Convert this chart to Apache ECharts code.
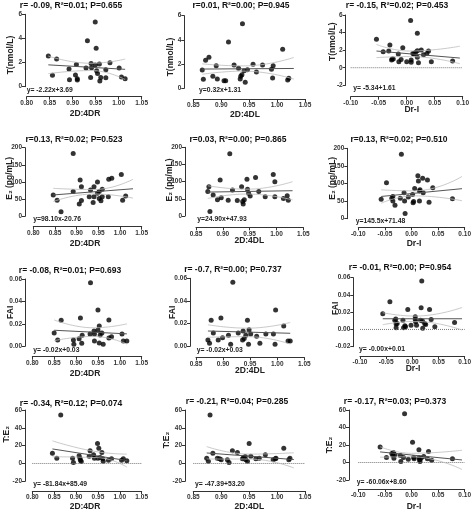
<!DOCTYPE html>
<html><head><meta charset="utf-8">
<script src="https://cdn.jsdelivr.net/npm/echarts@6/dist/echarts.min.js"></script>
<style>html,body{margin:0;padding:0;background:#fff}#c{width:474px;height:512px}</style>
</head><body><div id="c"></div><script>
// ---------- DATA ----------
const xAxisNames = ['2D:4DR','2D:4DL','Dr-I'];
const yAxisNames = ['T(nmol/L)','E\u2082 (pg/mL)','FAI','T:E\u2082'];
const statTexts = [
 'r= -0.09, R\u00b2=0.01; P=0.655','r=0.01, R\u00b2=0.00; P=0.945','r= -0.15, R\u00b2=0.02; P=0.453',
 'r=0.13, R\u00b2=0.02; P=0.523','r=0.03, R\u00b2=0.00; P=0.865','r=0.13, R\u00b2=0.02; P=0.510',
 'r= -0.08, R\u00b2=0.01; P=0.693','r= -0.7, R\u00b2=0.00; P=0.737','r= -0.01, R\u00b2=0.00; P=0.954',
 'r= -0.34, R\u00b2=0.12; P=0.074','r= -0.21, R\u00b2=0.04; P=0.285','r= -0.17, R\u00b2=0.03; P=0.373'];
const eqTexts = [
 'y= -2.22x+3.69','y=0.32x+1.31','y= -5.34+1.61',
 'y=98.10x-20.76','y=24.90x+47.93','y=145.5x+71.48',
 'y= -0.02x+0.03','y= -0.02x+0.03','y= -0.00x+0.01',
 'y= -81.84x+85.49','y= -47.39+53.20','y= -60.06x+8.60'];
// axis ranges [min,max,interval]
const xRanges = [[0.80,1.05,0.05],[0.85,1.05,0.05],[-0.10,0.10,0.05]];
const yRanges = [[0,6,2],[0,6,2],[-2,6,2],[0,200,50],[0,200,50],[0,200,50],
 [0,0.06,0.02],[0,0.06,0.02],[-0.02,0.06,0.02],[-20,60,20],[-20,60,20],[-20,60,20]];

const t4drX=[0.847,0.865,0.856,0.892,0.893,0.908,0.906,0.910,0.910,0.932,0.929,0.939,0.940,0.941,0.949,0.951,0.949,0.952,0.954,0.958,0.961,0.959,0.972,0.972,0.981,1.001,1.006,1.014];
const t4drY=[2.54,2.29,0.94,1.46,0.58,1.85,0.97,0.66,0.55,3.81,1.55,0.77,1.93,1.57,5.36,3.18,1.80,1.33,1.10,1.88,0.77,0.47,1.41,0.75,1.99,1.55,0.80,0.66];
const t4dlX=[0.866,0.868,0.872,0.878,0.885,0.891,0.893,0.905,0.908,0.913,0.923,0.931,0.934,0.935,0.937,0.938,0.941,0.943,0.947,0.957,0.963,0.974,0.990,0.993,0.992,1.010,1.019,1.021];
const t4dlY=[1.52,0.74,2.31,2.56,0.99,1.87,0.77,0.63,0.63,3.83,1.93,1.65,0.77,0.99,1.13,5.34,1.46,0.50,1.54,1.98,1.35,1.93,1.57,1.87,0.85,3.22,0.69,0.83];
const tDrX=[-0.054,-0.042,-0.032,-0.030,-0.027,-0.026,-0.024,-0.007,-0.015,-0.014,-0.010,0.000,0.007,0.008,0.008,0.011,0.016,0.019,0.019,0.019,0.021,0.026,0.030,0.036,0.039,0.044,0.082,0.013];
const tDrY=[3.23,1.83,1.90,2.59,0.87,0.99,0.99,2.28,1.56,0.68,0.95,0.68,5.36,0.87,0.61,1.63,1.75,3.92,1.94,1.18,0.57,2.02,1.48,1.63,1.90,0.68,0.76,1.56];
const e4drX=[0.846,0.855,0.864,0.892,0.892,0.908,0.911,0.906,0.911,0.932,0.929,0.940,0.940,0.938,0.948,0.948,0.952,0.952,0.956,0.959,0.959,0.973,0.974,0.981,1.003,1.006,1.013];
const e4drY=[62,47,13,183,72,106,86,36,46,77,57,86,57,40,100,67,72,52,45,79,57,57,108,111,122,47,59];
const e4dlX=[0.872,0.874,0.876,0.882,0.890,0.895,0.897,0.910,0.913,0.918,0.927,0.935,0.937,0.938,0.940,0.945,0.946,0.948,0.951,0.961,0.967,0.979,0.994,0.997,0.997,1.013,1.020,1.022];
const e4dlY=[71,85,13,61,47,105,53,46,181,76,45,85,42,35,47,107,78,66,58,112,71,56,121,100,56,51,59,46];
const eDrX=[-0.057,-0.047,-0.037,-0.035,-0.035,-0.031,-0.021,-0.019,-0.014,-0.013,-0.012,-0.006,0.002,0.004,0.003,0.006,0.012,0.013,0.015,0.015,0.016,0.021,0.022,0.030,0.033,0.040,0.077];
const eDrY=[55,102,58,63,50,38,58,183,74,50,15,62,69,49,45,86,122,107,79,50,82,115,74,110,47,88,57];
const fai4drX=[0.850,0.858,0.866,0.894,0.895,0.907,0.910,0.914,0.913,0.933,0.932,0.941,0.942,0.942,0.950,0.950,0.953,0.955,0.953,0.959,0.962,0.975,0.975,0.981,1.005,1.008,1.016];
const fai4drY=[0.0119,0.0056,0.0232,0.0056,0.0018,0.0068,0.0252,0.0098,0.0027,0.0567,0.011,0.0137,0.011,0.0048,0.0324,0.0146,0.0181,0.0101,0.003,0.0119,0.0018,0.0235,0.0074,0.0086,0.011,0.0048,0.0048];
const fai4dlX=[0.872,0.875,0.878,0.882,0.891,0.896,0.899,0.910,0.914,0.918,0.928,0.936,0.937,0.939,0.942,0.945,0.947,0.948,0.951,0.962,0.968,0.979,0.993,0.996,0.997,1.012,1.020,1.024];
const fai4dlY=[0.0056,0.0026,0.0229,0.0118,0.0056,0.025,0.0076,0.0097,0.0018,0.0565,0.0118,0.0056,0.0135,0.0068,0.0097,0.0229,0.0018,0.0147,0.0109,0.0088,0.0026,0.0109,0.0109,0.0018,0.032,0.0179,0.0047,0.0047];
const faiDrX=[-0.0565,-0.0429,-0.0335,-0.0317,-0.031,-0.029,-0.031,-0.018,-0.0168,-0.0143,-0.013,-0.0087,-0.0025,0.0056,0.0056,0.0062,0.008,0.0155,0.0168,0.018,0.0193,0.0199,0.0236,0.0255,0.0329,0.036,0.043,0.0807];
const faiDrY=[0.0182,0.0321,0.0108,0.012,0.0062,0.007,0.0019,0.0108,0.0019,0.0043,0.003,0.0232,0.005,0.0147,0.0116,0.0089,0.005,0.0108,0.0252,0.0561,0.0097,0.0015,0.007,0.0058,0.0232,0.0116,0.003,0.0081];
const te4drX=[0.846,0.856,0.865,0.892,0.894,0.907,0.909,0.910,0.912,0.932,0.930,0.940,0.942,0.949,0.952,0.950,0.955,0.959,0.961,0.962,0.974,0.981,1.004,1.008,1.016];
const te4drY=[11.6,6.0,54.5,6.0,1.1,8.6,6.0,3.7,2.2,14.2,8.2,9.7,6.0,22.4,17.2,6.0,6.7,12.3,5.2,2.6,3.7,5.2,3.7,5.2,3.0];
const te4dlX=[0.874,0.877,0.880,0.885,0.893,0.897,0.900,0.911,0.914,0.920,0.929,0.938,0.940,0.943,0.944,0.947,0.950,0.953,0.962,0.968,0.979,0.993,0.997,0.998,1.012,1.021,1.023];
const te4dlY=[6.0,2.6,54.5,11.6,6.0,5.2,4.1,4.1,1.1,14.2,12.3,5.2,6.7,7.8,4.1,2.6,22.4,8.2,5.2,6.0,9.7,4.1,5.2,6.0,17.2,4.1,6.0];
const teDrX=[-0.059,-0.047,-0.037,-0.035,-0.034,-0.033,-0.031,-0.021,-0.020,-0.015,-0.013,-0.006,0.002,0.004,0.005,0.014,0.014,0.015,0.016,0.018,0.023,0.030,0.032,0.038,0.077];
const teDrY=[17.7,5.8,10.4,8.1,11.5,5.0,8.8,8.1,1.2,5.8,55.8,3.8,23.1,5.8,4.2,14.6,5.8,3.1,1.2,5.0,6.9,4.2,12.7,2.7,4.2];

// regression line end points [x0,y0,x1,y1]
const fitLines=[[0.847,1.81,1.014,1.44],[0.866,1.59,1.03,1.64],[-0.054,1.90,0.095,1.10],
 [0.846,62.2,1.03,80.3],[0.872,69.6,1.03,73.6],[-0.057,63.2,0.095,85.3],
 [0.850,0.0143,1.016,0.0111],[0.872,0.0135,1.024,0.0115],[-0.0565,0.0124,0.095,0.0124],
 [0.846,16.3,1.016,3.3],[0.874,11.8,1.03,4.4],[-0.059,12.1,0.095,2.9]];
// 95% confidence band (read at left end, narrowest point, right end)
const bandUpper=[[[0.847,2.54],[0.94,1.94],[1.014,2.29]],[[0.866,2.02],[0.94,1.85],[1.03,2.55]],[[-0.054,2.65],[0.005,1.90],[0.095,2.45]],
 [[0.846,81.5],[0.94,78],[1.03,108]],[[0.872,88],[0.945,78],[1.03,100]],[[-0.057,82],[0.005,79],[0.095,120]],
 [[0.85,0.0235],[0.94,0.0165],[1.016,0.020]],[[0.872,0.019],[0.945,0.016],[1.024,0.021]],[[-0.0565,0.0194],[0.005,0.0155],[0.095,0.0255]],
 [[0.846,25.4],[0.95,13],[1.016,10.5]],[[0.874,19],[0.95,10.5],[1.03,12]],[[-0.059,18],[0.0,10.5],[0.095,14]]];
const bandLower=[[[0.847,1.08],[0.94,1.34],[1.014,0.59]],[[0.866,1.16],[0.94,1.42],[1.03,0.76]],[[-0.054,1.15],[0.005,1.27],[0.095,0.45]],
 [[0.846,43],[0.94,65],[1.03,53]],[[0.872,51],[0.945,64],[1.03,47]],[[-0.057,44],[0.005,65],[0.095,51]],
 [[0.85,0.005],[0.94,0.0088],[1.016,0.002]],[[0.872,0.008],[0.945,0.0085],[1.024,0.002]],[[-0.0565,0.0055],[0.005,0.0093],[0.095,-0.0007]],
 [[0.846,7.5],[0.95,6.5],[1.016,-4]],[[0.874,5],[0.95,5],[1.03,-5]],[[-0.059,6],[0.0,6.5],[0.095,-8]]];
const zeroLinePanels=[2,8,9,10,11];

const panelX=[t4drX,t4dlX,tDrX,e4drX,e4dlX,eDrX,fai4drX,fai4dlX,faiDrX,te4drX,te4dlX,teDrX];
const panelY=[t4drY,t4dlY,tDrY,e4drY,e4dlY,eDrY,fai4drY,fai4dlY,faiDrY,te4drY,te4dlY,teDrY];

// ---------- LAYOUT (pixels) ----------
// [yAxisX, xMinPx, xMaxPx, yTopPx, yBottomPx, xAxisY]
const layout=[[25,26.7,141.7,14.3,86.7,96.7],[184.3,193.3,305,15.7,88.3,99],[345.7,350.7,462.7,15,85.3,96.7],
 [25,33.3,141.7,147.7,216.3,226.7],[185,196,303.3,147.3,216,227.3],[347.3,358.3,468,148.3,218.7,227.3],
 [25,32.3,141.7,279,346.3,356.7],[190,196,304.3,278.3,346.3,357.3],[353.3,360,467.3,277.7,346.7,356],
 [25,32.3,141.7,410,481.3,491],[185,193.3,305,410,481.3,491],[349,358.3,467.3,410,480,489]];
const titlePos=[[71,6],[241,6],[397,6],[74,140],[238,140],[399,140],[70,271],[233,270],[400,267.3],[71,403.3],[237,401.7],[395,401.7]];
const eqPos=[[26.7,90],[199,90],[353.3,88.3],[33.3,219.3],[197.3,219.3],[355.7,220.7],[33.3,350],[196.7,350],[359,349.3],[33.3,484.3],[195,484.3],[356.7,482.3]];
const yNamePos=[[10.7,55],[170.7,57],[332.3,41.7],[9.7,178.3],[170,180],[332.3,178.3],[10.8,312.3],[172.5,312.3],[335.7,308.3],[7,434.3],[166.7,440],[329.7,445]];
const xNamePos=[[85,113.3],[245,115],[411.7,110],[85,243.3],[249.3,241],[414,243.3],[85,373.3],[250,371],[413,368.3],[85,507],[249.3,507],[414,507]];

const FONT='"Liberation Sans", Arial, sans-serif';
const AX='#333';
const grids=[],xAxes=[],yAxes=[],series=[],graphics=[];
layout.forEach((L,i)=>{
  const col=i%3,row=Math.floor(i/3);
  const xr=xRanges[col];
  const yr=yRanges[i];
  grids.push({left:L[1],top:L[3],width:L[2]-L[1],height:L[4]-L[3]});
  const axCommon={axisLine:{show:true,onZero:false,lineStyle:{color:AX,width:1}},
    axisTick:{show:true,inside:false,length:3,lineStyle:{color:AX,width:1}},
    splitLine:{show:false}};
  xAxes.push(Object.assign({gridIndex:i,type:'value',position:'bottom',min:xr[0],max:xr[1],interval:xr[2],offset:L[5]-L[4],
    axisLabel:{fontSize:6.5,fontWeight:'bold',color:AX,fontFamily:FONT,margin:3,formatter:v=>v.toFixed(2)}},axCommon));
  const dec=(row===2)?2:0;
  yAxes.push(Object.assign({gridIndex:i,type:'value',position:'left',min:yr[0],max:yr[1],interval:yr[2],offset:L[1]-L[0],
    axisLabel:{fontSize:6.5,fontWeight:'bold',color:AX,fontFamily:FONT,margin:3,formatter:v=>v.toFixed(dec)}},axCommon));
  if(zeroLinePanels.includes(i)){
    series.push({type:'line',xAxisIndex:i,yAxisIndex:i,data:[[xr[0],0],[xr[1],0]],symbol:'none',silent:true,
      lineStyle:{color:'#777',width:1,type:'dotted'}});
  }
  series.push({type:'line',xAxisIndex:i,yAxisIndex:i,data:bandUpper[i],smooth:true,symbol:'none',silent:true,lineStyle:{color:'#bbb',width:0.8}});
  series.push({type:'line',xAxisIndex:i,yAxisIndex:i,data:bandLower[i],smooth:true,symbol:'none',silent:true,lineStyle:{color:'#bbb',width:0.8}});
  const f=fitLines[i];
  series.push({type:'line',xAxisIndex:i,yAxisIndex:i,data:[[f[0],f[1]],[f[2],f[3]]],symbol:'none',silent:true,lineStyle:{color:'#555',width:1}});
  series.push({type:'scatter',xAxisIndex:i,yAxisIndex:i,symbolSize:5,itemStyle:{color:'#000'},
    data:panelX[i].map((x,k)=>[x,panelY[i][k]])});
  graphics.push({type:'text',x:titlePos[i][0],y:titlePos[i][1],style:{text:statTexts[i],font:'bold 8.5px '+FONT,fill:'#111',align:'center',verticalAlign:'middle'}});
  graphics.push({type:'text',x:eqPos[i][0],y:eqPos[i][1],style:{text:eqTexts[i],font:'bold 6.8px '+FONT,fill:'#222',align:'left',verticalAlign:'middle'}});
  graphics.push({type:'text',x:yNamePos[i][0],y:yNamePos[i][1],rotation:Math.PI/2,style:{text:yAxisNames[row],font:'bold 8.5px '+FONT,fill:'#222',align:'center',verticalAlign:'middle'}});
  graphics.push({type:'text',x:xNamePos[i][0],y:xNamePos[i][1],style:{text:xAxisNames[col],font:'bold 8.5px '+FONT,fill:'#222',align:'center',verticalAlign:'middle'}});
});

const chart=echarts.init(document.getElementById('c'),null,{renderer:'canvas'});
chart.setOption({animation:false,backgroundColor:'#fff',grid:grids,xAxis:xAxes,yAxis:yAxes,series:series,graphic:graphics});
</script></body></html>
